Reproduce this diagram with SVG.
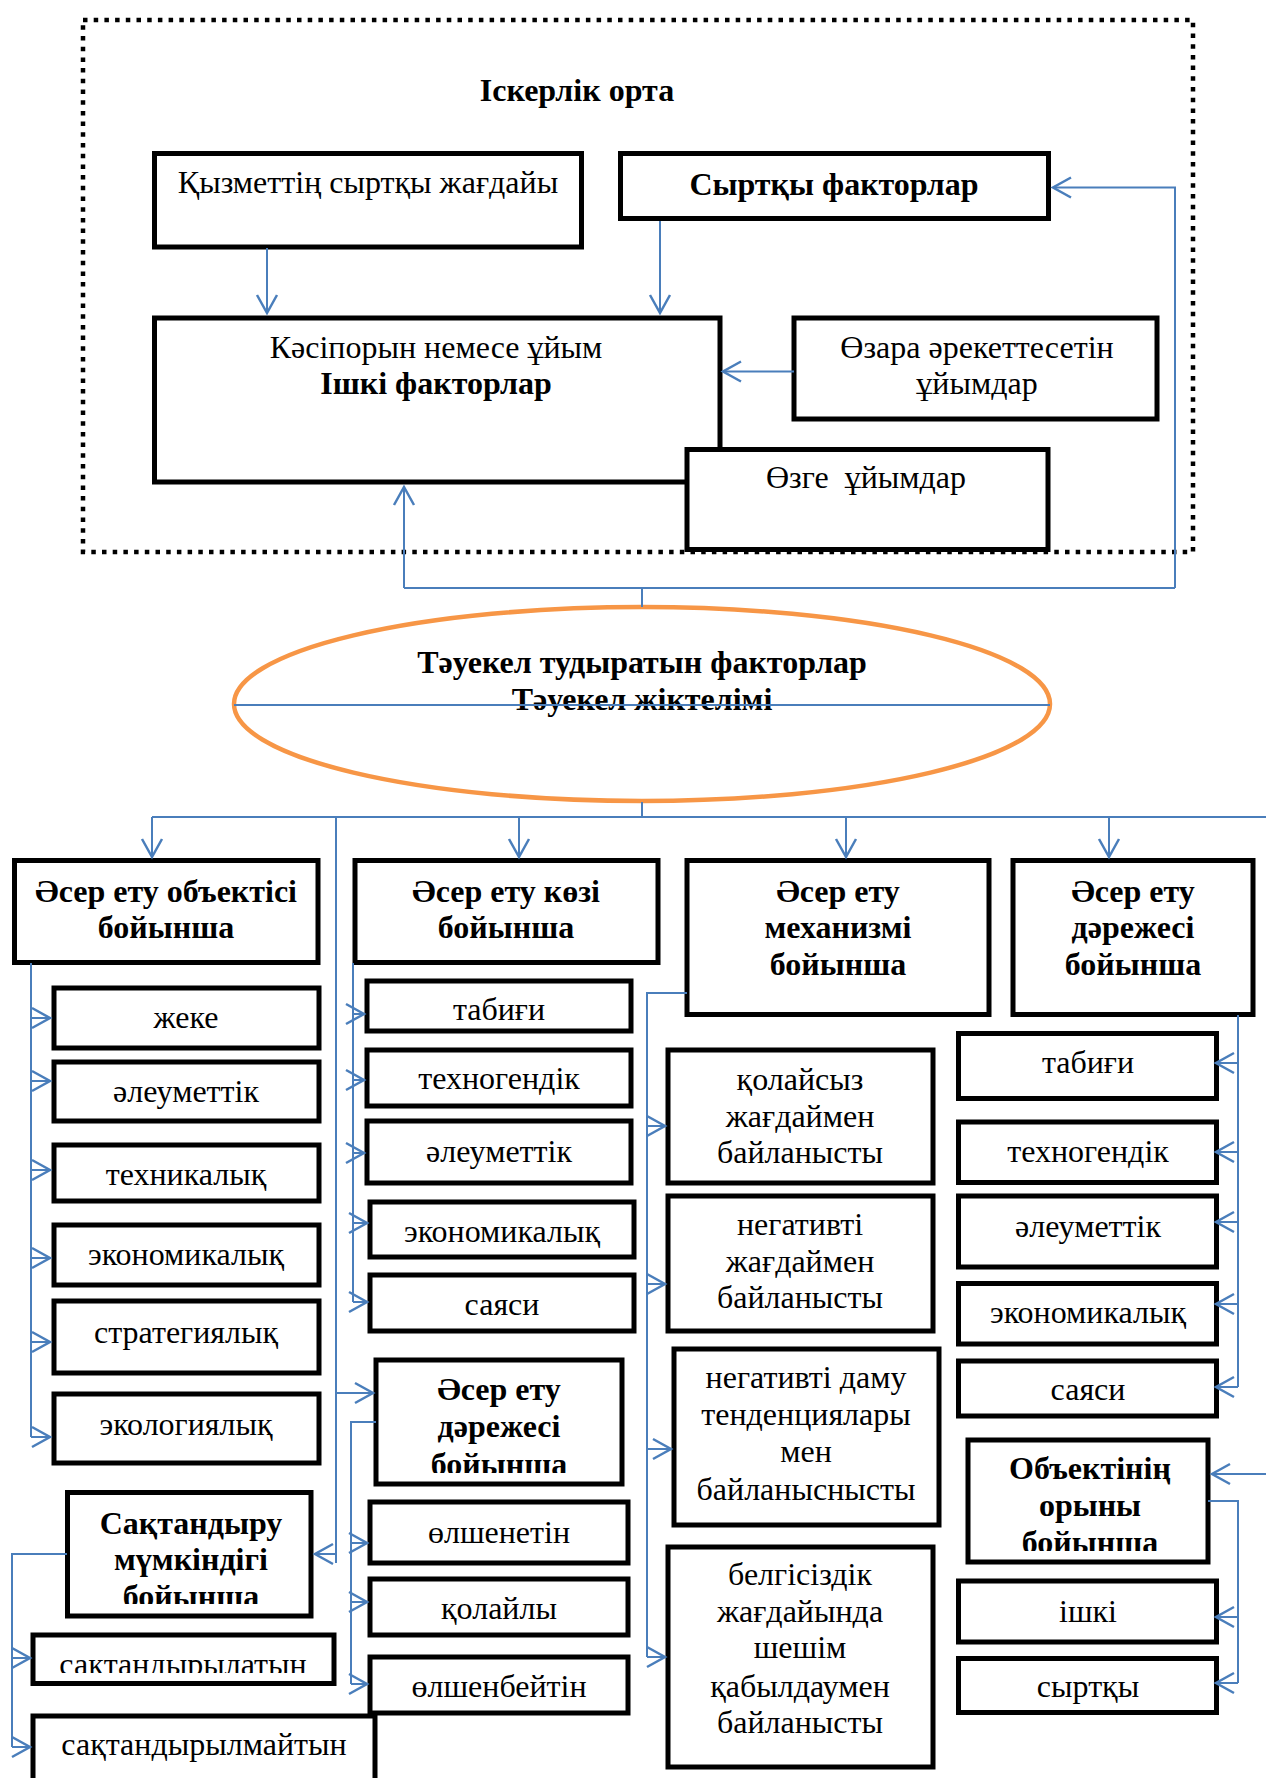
<svg xmlns="http://www.w3.org/2000/svg" width="1266" height="1778" viewBox="0 0 1266 1778">
<style>
.box{fill:#fff;stroke:#000;stroke-width:5}
.t{font-family:"Liberation Serif","Times New Roman",serif;font-size:32px;text-anchor:middle;fill:#000}
.b{font-weight:bold}
.c{fill:none;stroke:#4A7EBB;stroke-width:2}
.a{marker-end:url(#ah)}
</style>
<defs>
<marker id="ah" markerUnits="userSpaceOnUse" markerWidth="22" markerHeight="24" refX="18" refY="10" orient="auto" overflow="visible">
<path d="M0,0 L18,10 L0,20" fill="none" stroke="#4A7EBB" stroke-width="2.5"/>
</marker>
<clipPath id="clipA"><rect x="376" y="1360" width="246" height="113"/></clipPath>
<clipPath id="clipB"><rect x="67" y="1492" width="244" height="112"/></clipPath>
<clipPath id="clipC"><rect x="33" y="1635" width="301" height="38"/></clipPath>
<clipPath id="clipD"><rect x="968" y="1440" width="240" height="111"/></clipPath>
</defs>
<rect width="1266" height="1778" fill="#fff"/>
<g id="frame">
<rect x="83" y="20" width="1110" height="532" fill="none" stroke="#000" stroke-width="4.5" stroke-dasharray="4.5 6.2"/>
<text class="t b" x="577" y="101">Іскерлік орта</text>
</g>
<g id="n-kyzmet">
<rect class="box" x="154.5" y="153.5" width="427" height="93.5"/>
<text class="t" x="368" y="193">Қызметтің сыртқы жағдайы</text>
</g>
<g id="n-syrtky">
<rect class="box" x="620.5" y="153.5" width="428" height="65"/>
<text class="t b" x="834" y="195">Сыртқы факторлар</text>
</g>
<g id="n-ishki">
<rect class="box" x="154.5" y="318" width="565.5" height="164"/>
<text class="t" x="436" y="358">Кәсіпорын немесе ұйым</text>
<text class="t b" x="436" y="394">Ішкі факторлар</text>
</g>
<g id="n-ozara">
<rect class="box" x="794" y="318" width="363" height="101"/>
<text class="t" x="977" y="358">Өзара әрекеттесетін</text>
<text class="t" x="977" y="394">ұйымдар</text>
</g>
<g id="n-ozge">
<rect class="box" x="687" y="449.5" width="361" height="100"/>
<text class="t" x="866" y="488" xml:space="preserve">Өзге  ұйымдар</text>
</g>
<g id="n-tauekel">
<ellipse cx="642" cy="704" rx="408" ry="97" fill="#fff" stroke="#F79646" stroke-width="4.5"/>
<text class="t b" x="642" y="673">Тәуекел тудыратын факторлар</text>
<text class="t b" x="642" y="710">Тәуекел жіктелімі</text>
</g>
<g id="c-obj">
<rect class="box" x="14.5" y="860.5" width="303.5" height="102"/>
<text class="t b" x="166" y="902">Әсер ету объектісі</text>
<text class="t b" x="166" y="938">бойынша</text>
</g>
<g id="c-koz">
<rect class="box" x="355" y="860.5" width="303" height="102"/>
<text class="t b" x="506" y="902">Әсер ету көзі</text>
<text class="t b" x="506" y="938">бойынша</text>
</g>
<g id="c-mech">
<rect class="box" x="687" y="860.5" width="302" height="154"/>
<text class="t b" x="838" y="902">Әсер ету</text>
<text class="t b" x="838" y="938">механизмі</text>
<text class="t b" x="838" y="975">бойынша</text>
</g>
<g id="c-dar">
<rect class="box" x="1013" y="860.5" width="240" height="154"/>
<text class="t b" x="1133" y="902">Әсер ету</text>
<text class="t b" x="1133" y="938">дәрежесі</text>
<text class="t b" x="1133" y="975">бойынша</text>
</g>
<g id="o1"><rect class="box" x="54" y="988" width="265" height="60"/><text class="t" x="186" y="1028">жеке</text></g>
<g id="o2"><rect class="box" x="54" y="1062" width="265" height="59"/><text class="t" x="186" y="1102">әлеуметтік</text></g>
<g id="o3"><rect class="box" x="54" y="1145" width="265" height="56"/><text class="t" x="186" y="1185">техникалық</text></g>
<g id="o4"><rect class="box" x="54" y="1225" width="265" height="60"/><text class="t" x="186" y="1265">экономикалық</text></g>
<g id="o5"><rect class="box" x="54" y="1301" width="265" height="72"/><text class="t" x="186" y="1343">стратегиялық</text></g>
<g id="o6"><rect class="box" x="54" y="1394" width="265" height="69"/><text class="t" x="186" y="1435">экологиялық</text></g>
<g id="k1"><rect class="box" x="367" y="981" width="264" height="50"/><text class="t" x="499" y="1020">табиғи</text></g>
<g id="k2"><rect class="box" x="367" y="1050" width="264" height="56"/><text class="t" x="499" y="1089">техногендік</text></g>
<g id="k3"><rect class="box" x="367" y="1121" width="264" height="62"/><text class="t" x="499" y="1162">әлеуметтік</text></g>
<g id="k4"><rect class="box" x="370" y="1202" width="264" height="55"/><text class="t" x="502" y="1242">экономикалық</text></g>
<g id="k5"><rect class="box" x="370" y="1275" width="264" height="56"/><text class="t" x="502" y="1315">саяси</text></g>
<g id="c-dar2">
<rect class="box" x="376" y="1360" width="246" height="124"/>
<g clip-path="url(#clipA)">
<text class="t b" x="499" y="1400">Әсер ету</text>
<text class="t b" x="499" y="1437">дәрежесі</text>
<text class="t b" x="499" y="1475">бойынша</text>
</g>
</g>
<g id="d1"><rect class="box" x="370" y="1502" width="258" height="61"/><text class="t" x="499" y="1543">өлшенетін</text></g>
<g id="d2"><rect class="box" x="370" y="1579" width="258" height="56"/><text class="t" x="499" y="1619">қолайлы</text></g>
<g id="d3"><rect class="box" x="370" y="1657" width="258" height="56"/><text class="t" x="499" y="1697">өлшенбейтін</text></g>
<g id="c-sak">
<rect class="box" x="67.5" y="1492.5" width="243.5" height="123.5"/>
<g clip-path="url(#clipB)">
<text class="t b" x="191" y="1534">Сақтандыру</text>
<text class="t b" x="191" y="1570">мүмкіндігі</text>
<text class="t b" x="191" y="1607">бойынша</text>
</g>
</g>
<g id="s1">
<rect class="box" x="33" y="1635" width="301" height="48.5"/>
<g clip-path="url(#clipC)"><text class="t" x="183" y="1675">сақтандырылатын</text></g>
</g>
<g id="s2"><rect class="box" x="33" y="1716" width="342" height="80"/><text class="t" x="204" y="1755">сақтандырылмайтын</text></g>
<g id="m1"><rect class="box" x="668" y="1050" width="265" height="133"/>
<text class="t" x="800" y="1090">қолайсыз</text><text class="t" x="800" y="1127">жағдаймен</text><text class="t" x="800" y="1163">байланысты</text></g>
<g id="m2"><rect class="box" x="668" y="1196" width="265" height="135"/>
<text class="t" x="800" y="1235">негативті</text><text class="t" x="800" y="1272">жағдаймен</text><text class="t" x="800" y="1308">байланысты</text></g>
<g id="m3"><rect class="box" x="674" y="1349" width="265" height="176"/>
<text class="t" x="806" y="1388">негативті даму</text><text class="t" x="806" y="1425">тенденциялары</text><text class="t" x="806" y="1462">мен</text><text class="t" x="806" y="1500">байланысны&#1089;ты</text></g>
<g id="m4"><rect class="box" x="668" y="1547" width="265" height="220"/>
<text class="t" x="800" y="1585">белгісіздік</text><text class="t" x="800" y="1622">жағдайында</text><text class="t" x="800" y="1658">шешім</text><text class="t" x="800" y="1697">қабылдаумен</text><text class="t" x="800" y="1733">байланысты</text></g>
<g id="r1"><rect class="box" x="958.5" y="1033.5" width="258" height="65"/><text class="t" x="1088" y="1073">табиғи</text></g>
<g id="r2"><rect class="box" x="958.5" y="1122" width="258" height="60.5"/><text class="t" x="1088" y="1162">техногендік</text></g>
<g id="r3"><rect class="box" x="958.5" y="1196" width="258" height="71"/><text class="t" x="1088" y="1237">әлеуметтік</text></g>
<g id="r4"><rect class="box" x="958.5" y="1283.5" width="258" height="60.5"/><text class="t" x="1088" y="1323">экономикалық</text></g>
<g id="r5"><rect class="box" x="958.5" y="1361" width="258" height="55"/><text class="t" x="1088" y="1400">саяси</text></g>
<g id="c-orny">
<rect class="box" x="968" y="1440" width="240" height="122"/>
<g clip-path="url(#clipD)">
<text class="t b" x="1090" y="1479">Объектінің</text>
<text class="t b" x="1090" y="1516">орыны</text>
<text class="t b" x="1090" y="1553">бойынша</text>
</g>
</g>
<g id="p1"><rect class="box" x="958.5" y="1581" width="258" height="61"/><text class="t" x="1088" y="1622">ішкі</text></g>
<g id="p2"><rect class="box" x="958.5" y="1658.5" width="258" height="54"/><text class="t" x="1088" y="1697">сыртқы</text></g>
<g id="connectors">
<path class="c a" d="M267,248 V313"/>
<path class="c a" d="M660,221 V313"/>
<path class="c a" d="M794,371.5 H723"/>
<path class="c" d="M642,607 V588 M404,588 H1175"/>
<path class="c a" d="M404,588 V487"/>
<path class="c a" d="M1175,588 V187.5 H1053"/>
<path class="c" d="M234,705 H1050"/>
<path class="c" d="M642,802 V817 M152,817 H1266"/>
<path class="c a" d="M152,817 V857"/>
<path class="c a" d="M519,817 V857"/>
<path class="c a" d="M846,817 V857"/>
<path class="c a" d="M1109,817 V857"/>
<path class="c" d="M336,817 V1563"/>
<path class="c a" d="M336,1393 H373"/>
<path class="c a" d="M336,1554 H315"/>
<path class="c" d="M31,963 V1437"/>
<path class="c a" d="M31,1018 H50"/>
<path class="c a" d="M31,1081 H50"/>
<path class="c a" d="M31,1170 H50"/>
<path class="c a" d="M31,1258 H50"/>
<path class="c a" d="M31,1342 H50"/>
<path class="c a" d="M31,1437 H50"/>
<path class="c" d="M353,963 V1302"/>
<path class="c a" d="M353,1014 H364"/>
<path class="c a" d="M353,1080 H364"/>
<path class="c a" d="M353,1153 H364"/>
<path class="c a" d="M353,1223 H367"/>
<path class="c a" d="M353,1302 H367"/>
<path class="c" d="M376,1422 H351 V1684"/>
<path class="c a" d="M351,1543 H367"/>
<path class="c a" d="M351,1602 H367"/>
<path class="c a" d="M351,1684 H367"/>
<path class="c" d="M687,993 H647 V1657"/>
<path class="c a" d="M647,1126 H665"/>
<path class="c a" d="M647,1284 H665"/>
<path class="c a" d="M647,1449 H671"/>
<path class="c a" d="M647,1657 H665"/>
<path class="c" d="M1238,1015 V1387"/>
<path class="c a" d="M1238,1063 H1216"/>
<path class="c a" d="M1238,1152 H1216"/>
<path class="c a" d="M1238,1222 H1216"/>
<path class="c a" d="M1238,1304 H1216"/>
<path class="c a" d="M1238,1387 H1216"/>
<path class="c a" d="M1266,1474 H1212"/>
<path class="c" d="M1208,1501 H1238 V1683"/>
<path class="c a" d="M1238,1617 H1216"/>
<path class="c a" d="M1238,1683 H1216"/>
<path class="c" d="M67,1554 H12 V1747"/>
<path class="c a" d="M12,1658 H30"/>
<path class="c a" d="M12,1747 H30"/>
</g>
</svg>
